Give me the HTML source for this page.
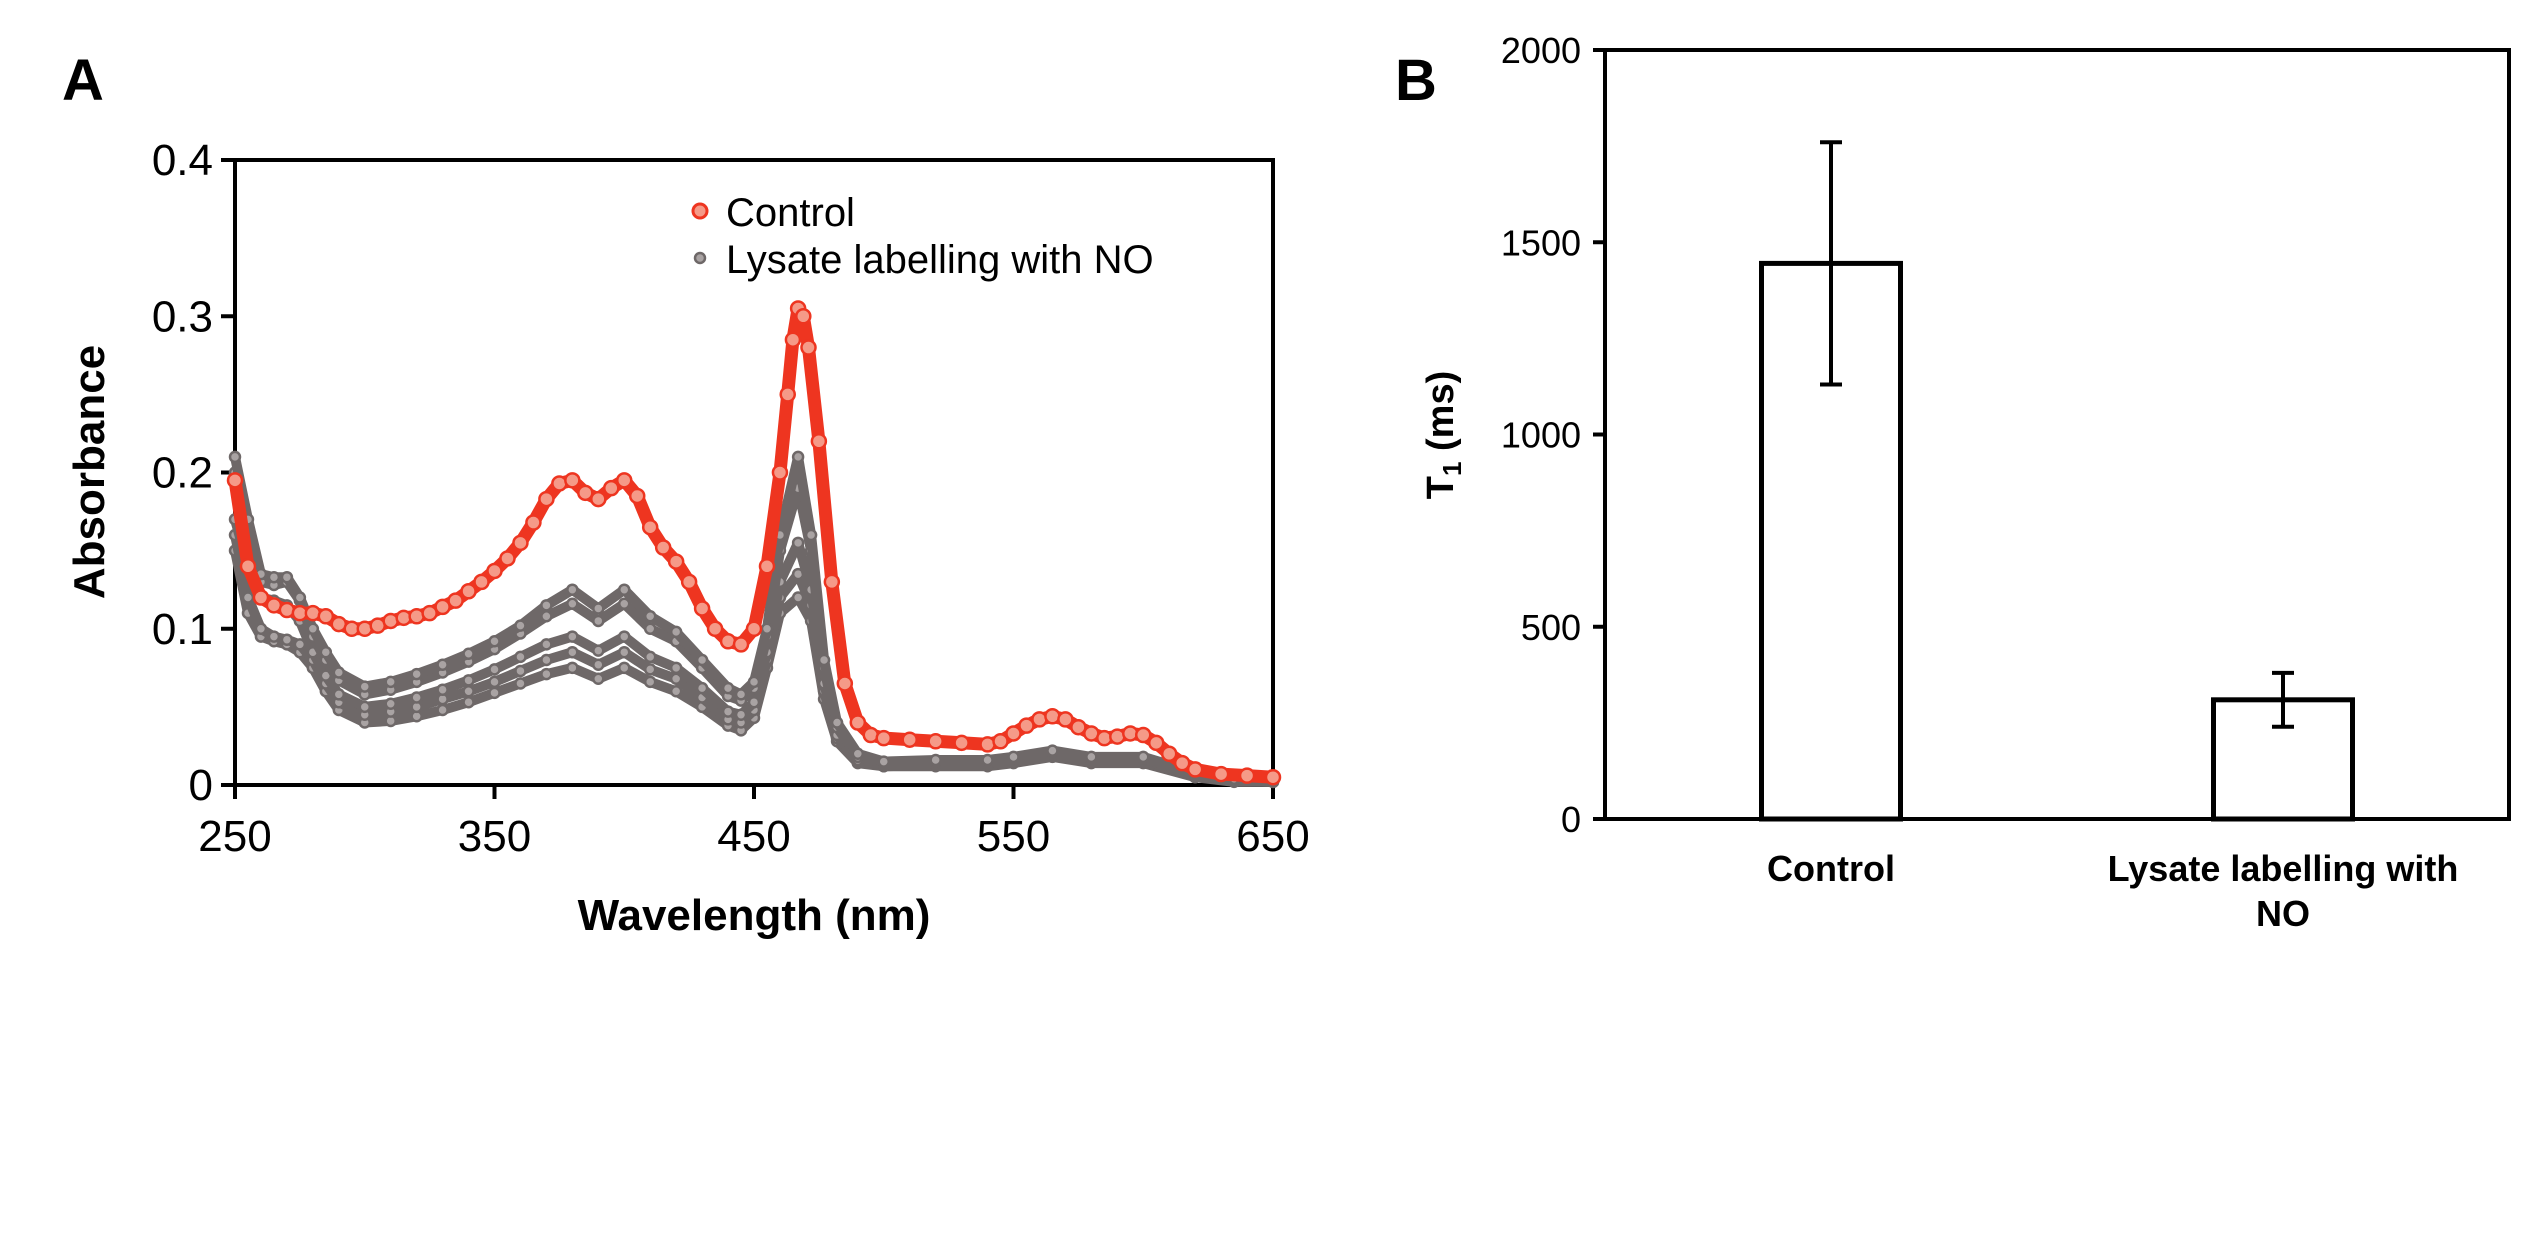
<!DOCTYPE html>
<html><head><meta charset="utf-8"><style>
html,body{margin:0;padding:0;background:#fff;}
svg{display:block;font-family:"Liberation Sans",Arial,sans-serif;}
</style></head><body>
<svg id="fig" width="2542" height="1250" viewBox="0 0 2542 1250">
<text x="62" y="100" font-size="58" font-weight="bold">A</text>
<text x="1395" y="100" font-size="58" font-weight="bold">B</text>
<g id="chartA"></g>
<g id="chartB"></g>
</svg>
<script>
// ---- Panel A data ----
const ctrlWl = [250,255,260,265,270,275,280,285,290,295,300,305,310,315,320,325,330,335,340,345,350,355,360,365,370,375,380,385,390,395,400,405,410,415,420,425,430,435,440,445,450,455,460,463,465,467,469,471,475,480,485,490,495,500,510,520,530,540,545,550,555,560,565,570,575,580,585,590,595,600,605,610,615,620,630,640,650];
const ctrlVals = [0.195,0.14,0.12,0.115,0.112,0.11,0.11,0.108,0.103,0.1,0.1,0.102,0.105,0.107,0.108,0.11,0.114,0.118,0.124,0.13,0.137,0.145,0.155,0.168,0.183,0.193,0.195,0.187,0.183,0.19,0.195,0.185,0.165,0.152,0.143,0.13,0.113,0.1,0.092,0.09,0.1,0.14,0.2,0.25,0.285,0.305,0.3,0.28,0.22,0.13,0.065,0.04,0.032,0.03,0.029,0.028,0.027,0.026,0.028,0.033,0.038,0.042,0.044,0.042,0.037,0.033,0.03,0.031,0.033,0.032,0.027,0.02,0.014,0.01,0.007,0.006,0.005];
const greyWl = [250,255,260,265,270,275,280,285,290,300,310,320,330,340,350,360,370,380,390,400,410,420,430,440,445,450,455,460,467,472,477,482,490,500,520,540,550,565,580,600,620,635,650];
const grey1 = [0.21,0.17,0.135,0.133,0.133,0.12,0.1,0.085,0.072,0.063,0.066,0.071,0.077,0.084,0.092,0.102,0.115,0.125,0.113,0.125,0.108,0.098,0.08,0.062,0.058,0.066,0.1,0.16,0.21,0.16,0.08,0.04,0.02,0.015,0.016,0.016,0.018,0.022,0.018,0.018,0.008,0.004,0.003];
const grey2 = [0.2,0.16,0.13,0.128,0.13,0.118,0.095,0.08,0.067,0.058,0.061,0.066,0.072,0.079,0.087,0.097,0.108,0.116,0.105,0.116,0.1,0.092,0.075,0.057,0.054,0.062,0.095,0.15,0.19,0.15,0.075,0.037,0.018,0.014,0.015,0.015,0.017,0.021,0.017,0.017,0.007,0.003,0.003];
const grey3 = [0.17,0.14,0.12,0.118,0.115,0.105,0.085,0.07,0.058,0.05,0.052,0.056,0.061,0.067,0.074,0.082,0.09,0.095,0.086,0.095,0.082,0.075,0.062,0.047,0.045,0.053,0.085,0.13,0.155,0.125,0.065,0.032,0.016,0.013,0.014,0.014,0.016,0.02,0.016,0.016,0.006,0.003,0.002];
const grey4 = [0.16,0.12,0.1,0.095,0.093,0.09,0.08,0.065,0.053,0.045,0.047,0.05,0.055,0.06,0.066,0.073,0.08,0.085,0.077,0.085,0.074,0.068,0.056,0.042,0.04,0.048,0.08,0.12,0.135,0.115,0.06,0.03,0.015,0.012,0.013,0.013,0.015,0.019,0.015,0.015,0.006,0.003,0.002];
const grey5 = [0.15,0.11,0.095,0.092,0.09,0.085,0.075,0.06,0.048,0.04,0.041,0.044,0.048,0.053,0.059,0.065,0.071,0.075,0.068,0.075,0.066,0.06,0.05,0.038,0.035,0.043,0.075,0.11,0.12,0.105,0.055,0.028,0.014,0.012,0.012,0.012,0.014,0.018,0.014,0.014,0.005,0.002,0.002];
const aXTicks = [250,350,450,550,650];
const aYTicks = [0,0.1,0.2,0.3,0.4];
const aYTickLabels = ["0","0.1","0.2","0.3","0.4"];
// ---- Panel B data ----
const bCategories = ["Control","Lysate labelling with NO"];
const bValues = [1445,310];
const bErrLow = [1130,240];
const bErrHigh = [1760,380];
const bYTicks = [0,500,1000,1500,2000];

const NS="http://www.w3.org/2000/svg";
function mk(parent,tag,attrs,text){const e=document.createElementNS(NS,tag);for(const k in attrs)e.setAttribute(k,attrs[k]);if(text!==undefined)e.textContent=text;parent.appendChild(e);return e;}

// Panel A axes
const A={l:235,r:1273,t:160,b:785};
const ax=w=>A.l+(w-250)/400*(A.r-A.l);
const ay=v=>A.b-v/0.4*(A.b-A.t);
const gA=document.getElementById('chartA');
let e=mk(gA,'rect',{x:A.l,y:A.t,width:A.r-A.l,height:A.b-A.t,fill:'none',stroke:'#000','stroke-width':4});


aXTicks.forEach(t=>{
  const x=ax(t);
  let tk=mk(gA,'line',{x1:x,x2:x,y1:A.b,y2:A.b+14,stroke:'#000','stroke-width':4});
  
  
  let lb=mk(gA,'text',{x:x,y:A.b+66,'font-size':44,'text-anchor':'middle'},String(t));
  
  
});
aYTicks.forEach((t,i)=>{
  const y=ay(t);
  let tk=mk(gA,'line',{x1:A.l-14,x2:A.l,y1:y,y2:y,stroke:'#000','stroke-width':4});
  
  
  let lb=mk(gA,'text',{x:A.l-22,y:y+15,'font-size':44,'text-anchor':'end'},aYTickLabels[i]);
  
  
});
e=mk(gA,'text',{x:(A.l+A.r)/2,y:930,'font-size':44,'font-weight':'bold','text-anchor':'middle'},'Wavelength (nm)');


e=mk(gA,'text',{x:0,y:0,'font-size':44,'font-weight':'bold','text-anchor':'middle',transform:'translate(104,472) rotate(-90)'},'Absorbance');



function series(wl,vals,stroke,fill,sw,r,name){
  const g=mk(gA,'g',{});
  
  
  const d=wl.map((w,i)=>(i?'L':'M')+ax(w).toFixed(1)+' '+ay(vals[i]).toFixed(1)).join(' ');
  mk(g,'path',{d:d,fill:'none',stroke:stroke,'stroke-width':sw,'stroke-linejoin':'round','stroke-linecap':'round'});
  wl.forEach((w,i)=>{
    const c=mk(g,'circle',{cx:ax(w),cy:ay(vals[i]),r:r,fill:fill,stroke:stroke,'stroke-width':2.5});
    
    
  });
}
[grey5,grey4,grey3,grey2,grey1].forEach((s,i)=>series(greyWl,s,'#6e6868','#a9a3a3',10,5,'lysate-series-'+(5-i)));
series(ctrlWl,ctrlVals,'#ee3520','#f59a88',13,7,'control-series');

// legend
e=mk(gA,'circle',{cx:700,cy:211,r:7,fill:'#f59a88',stroke:'#ee3520','stroke-width':3});


e=mk(gA,'text',{x:726,y:226,'font-size':40},'Control');


e=mk(gA,'circle',{cx:700,cy:258,r:5,fill:'#a9a3a3',stroke:'#6e6868','stroke-width':2.5});


e=mk(gA,'text',{x:726,y:273,'font-size':40},'Lysate labelling with NO');



// Panel B
const B={l:1605,r:2509,t:50,b:819};
const by=v=>B.b-v/2000*(B.b-B.t);
const bx=i=>B.l+(i+0.5)*(B.r-B.l)/bCategories.length;
const gB=document.getElementById('chartB');
e=mk(gB,'rect',{x:B.l,y:B.t,width:B.r-B.l,height:B.b-B.t,fill:'none',stroke:'#000','stroke-width':4});


bYTicks.forEach(t=>{
  const y=by(t);
  let tk=mk(gB,'line',{x1:B.l-12,x2:B.l,y1:y,y2:y,stroke:'#000','stroke-width':4});
  
  
  let lb=mk(gB,'text',{x:B.l-24,y:y+13,'font-size':36,'text-anchor':'end'},String(t));
  
  
});
const bw=139;
bCategories.forEach((c,i)=>{
  const cx=bx(i);
  let r=mk(gB,'rect',{x:cx-bw/2,y:by(bValues[i]),width:bw,height:B.b-by(bValues[i]),fill:'#fff',stroke:'#000','stroke-width':5});
  
  
  const g=mk(gB,'g',{stroke:'#000','stroke-width':4});
  
  
  mk(g,'line',{x1:cx,x2:cx,y1:by(bErrHigh[i]),y2:by(bErrLow[i])});
  mk(g,'line',{x1:cx-11,x2:cx+11,y1:by(bErrHigh[i]),y2:by(bErrHigh[i])});
  mk(g,'line',{x1:cx-11,x2:cx+11,y1:by(bErrLow[i]),y2:by(bErrLow[i])});
});
e=mk(gB,'text',{x:bx(0),y:881,'font-size':36,'font-weight':'bold','text-anchor':'middle'},bCategories[0]);


e=mk(gB,'text',{x:bx(1),y:881,'font-size':36,'font-weight':'bold','text-anchor':'middle'},'Lysate labelling with');


e=mk(gB,'text',{x:bx(1),y:926,'font-size':36,'font-weight':'bold','text-anchor':'middle'},'NO');


e=mk(gB,'text',{x:0,y:0,'font-size':38,'font-weight':'bold','text-anchor':'middle',transform:'translate(1453,435) rotate(-90)'});


mk(e,'tspan',{},'T');
mk(e,'tspan',{'font-size':26,dy:8},'1');
mk(e,'tspan',{dy:-8},' (ms)');
</script>
</body></html>
